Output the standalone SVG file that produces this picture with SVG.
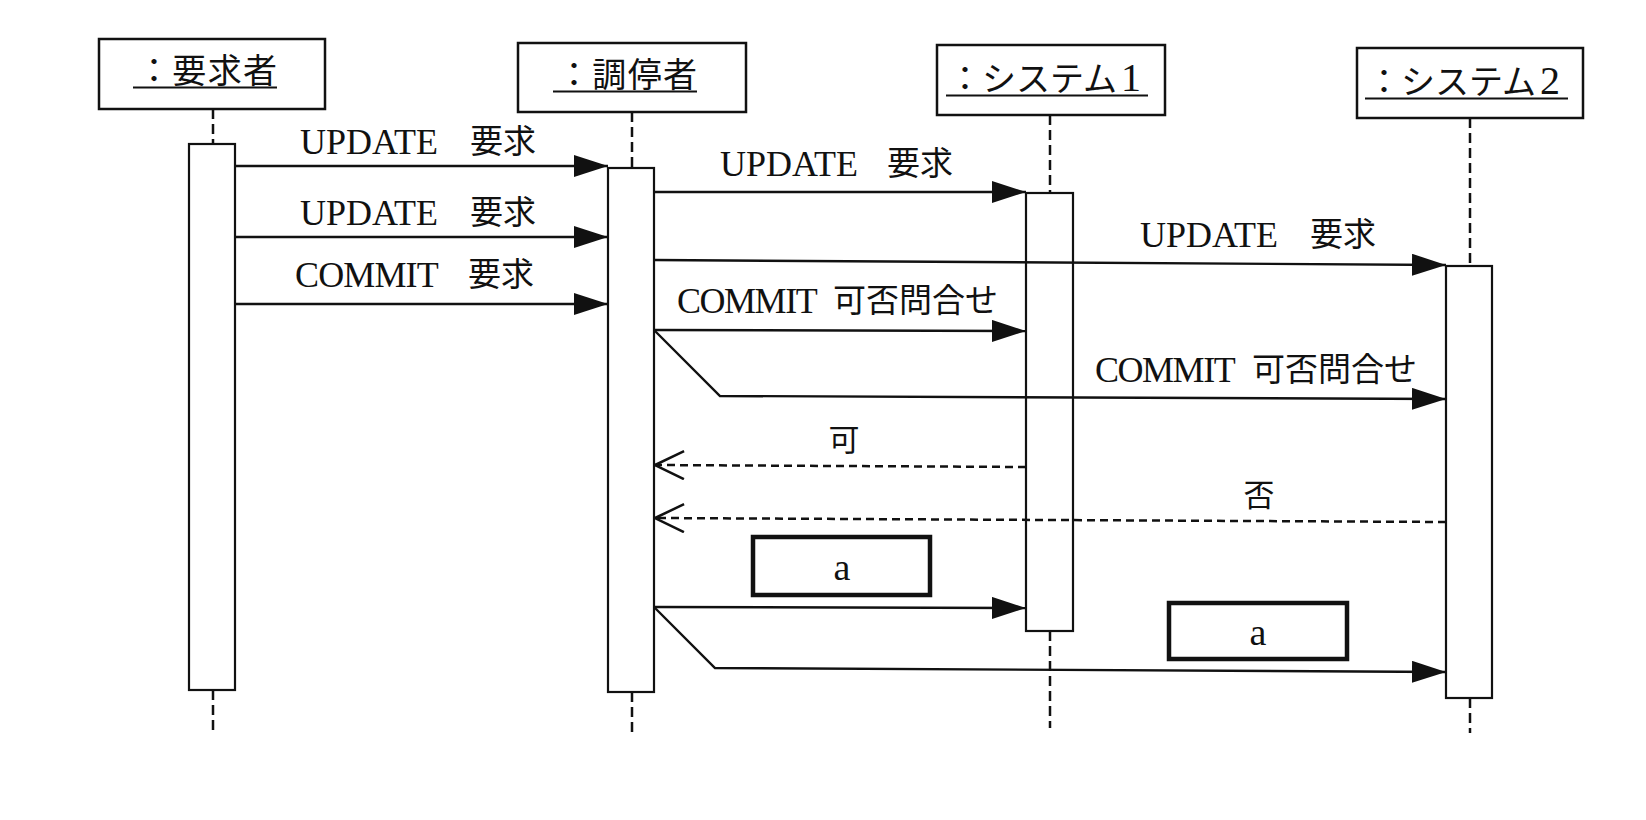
<svg xmlns="http://www.w3.org/2000/svg" width="1646" height="820" viewBox="0 0 1646 820">
<style>
.box{fill:#fff;stroke:#111;stroke-width:2.5}
.act{fill:#fff;stroke:#111;stroke-width:2.2}
.life{stroke:#111;stroke-width:2.5;stroke-dasharray:10 5;fill:none}
.ul{stroke:#111;stroke-width:2}
.hdr{font-family:"Liberation Serif","Noto Sans CJK JP",serif;font-size:34px;fill:#111}
.dig{font-size:40px}
.lbl{font-family:"Liberation Serif","Noto Sans CJK JP",serif;font-size:36px;fill:#111}
.jp{font-family:"Noto Sans CJK JP",sans-serif;font-size:33px}
.msg{stroke:#111;stroke-width:2.4;fill:none;marker-end:url(#filled)}
.ret{stroke:#111;stroke-width:2.5;stroke-dasharray:8 5;fill:none;marker-end:url(#open)}
.note{fill:#fff;stroke:#111;stroke-width:4.5}
</style>
<defs>
<marker id="filled" markerUnits="userSpaceOnUse" markerWidth="36" markerHeight="24" refX="34" refY="11" orient="auto">
<path d="M0,0 L34,11 L0,22 z" fill="#111"/>
</marker>
<marker id="open" markerUnits="userSpaceOnUse" markerWidth="32" markerHeight="32" refX="30" refY="15" orient="auto">
<path d="M1,1 L30,15 L1,29" fill="none" stroke="#111" stroke-width="2.5"/>
</marker>
</defs>
<rect width="1646" height="820" fill="#fff"/>

<g id="requester">
<line class="life" x1="213" y1="109" x2="213" y2="144"/>
<line class="life" x1="213" y1="690" x2="213" y2="730"/>
<rect class="box" x="99" y="39" width="226" height="70"/>
<text class="hdr" x="137" y="83" textLength="140">：要求者</text>
<line class="ul" x1="133" y1="87.5" x2="277" y2="87.5"/>
<rect class="act" x="189" y="144" width="46" height="546"/>
</g>

<g id="mediator">
<line class="life" x1="632" y1="112" x2="632" y2="168"/>
<line class="life" x1="632" y1="692" x2="632" y2="733"/>
<rect class="box" x="518" y="43" width="228" height="69"/>
<text class="hdr" x="557" y="87" textLength="140">：調停者</text>
<line class="ul" x1="553" y1="91.5" x2="697" y2="91.5"/>
<rect class="act" x="608" y="168" width="46" height="524"/>
</g>

<g id="system1">
<line class="life" x1="1050" y1="115" x2="1050" y2="193"/>
<line class="life" x1="1050" y1="631" x2="1050" y2="728"/>
<rect class="box" x="937" y="45" width="228" height="70"/>
<text class="hdr" x="948" y="91">：システム<tspan class="dig" dx="4">1</tspan></text>
<line class="ul" x1="946" y1="95.5" x2="1148" y2="95.5"/>
<rect class="act" x="1026" y="193" width="47" height="438"/>
</g>

<g id="system2">
<line class="life" x1="1470" y1="118" x2="1470" y2="266"/>
<line class="life" x1="1470" y1="698" x2="1470" y2="733"/>
<rect class="box" x="1357" y="48" width="226" height="70"/>
<text class="hdr" x="1367" y="94">：システム<tspan class="dig" dx="4">2</tspan></text>
<line class="ul" x1="1365" y1="98.5" x2="1568" y2="98.5"/>
<rect class="act" x="1446" y="266" width="46" height="432"/>
</g>

<g id="connectors">
<line class="msg" x1="235" y1="166" x2="608" y2="166"/>
<line class="msg" x1="235" y1="237" x2="608" y2="237"/>
<line class="msg" x1="235" y1="304" x2="608" y2="304"/>
<line class="msg" x1="654" y1="192" x2="1026" y2="192"/>
<line class="msg" x1="654" y1="260" x2="1446" y2="265"/>
<line class="msg" x1="654" y1="330" x2="1026" y2="331"/>
<polyline class="msg" points="654,330 720,396 1446,399"/>
<line class="ret" x1="1026" y1="467" x2="655" y2="465"/>
<line class="ret" x1="1446" y1="522" x2="655" y2="518"/>
<line class="msg" x1="654" y1="607" x2="1026" y2="608"/>
<polyline class="msg" points="654,607 715,668 1446,672"/>
</g>

<g id="labels">
<text class="lbl" x="300" y="154">UPDATE <tspan class="jp" x="470" dy="-1">要求</tspan></text>
<text class="lbl" x="300" y="225">UPDATE <tspan class="jp" x="470" dy="-1">要求</tspan></text>
<text class="lbl" x="295" y="287"><tspan textLength="143">COMMIT</tspan> <tspan class="jp" x="468" dy="-1">要求</tspan></text>
<text class="lbl" x="720" y="176">UPDATE <tspan class="jp" x="887" dy="-1">要求</tspan></text>
<text class="lbl" x="1140" y="247">UPDATE <tspan class="jp" x="1310" dy="-1">要求</tspan></text>
<text class="lbl" x="677" y="313"><tspan textLength="140">COMMIT</tspan> <tspan class="jp" x="833" dy="-1">可否問合せ</tspan></text>
<text class="lbl" x="1095" y="382"><tspan textLength="140">COMMIT</tspan> <tspan class="jp" x="1252" dy="-1">可否問合せ</tspan></text>
<text class="lbl jp" x="844" y="451" text-anchor="middle" style="font-size:31px">可</text>
<text class="lbl jp" x="1259" y="506" text-anchor="middle" style="font-size:31px">否</text>
</g>

<g id="note-a1">
<rect class="note" x="753" y="537" width="177" height="58"/>
<text class="lbl" x="842" y="580" text-anchor="middle" style="font-size:38px">a</text>
</g>
<g id="note-a2">
<rect class="note" x="1169" y="603" width="178" height="56"/>
<text class="lbl" x="1258" y="645" text-anchor="middle" style="font-size:38px">a</text>
</g>
</svg>
